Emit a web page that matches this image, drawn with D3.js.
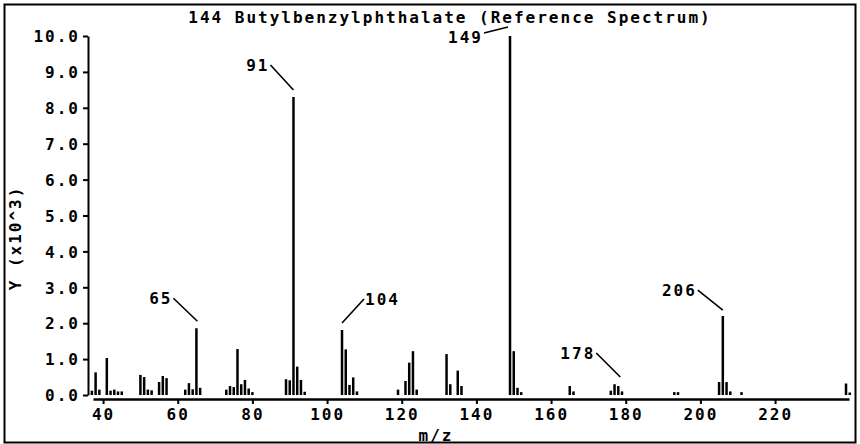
<!DOCTYPE html>
<html>
<head>
<meta charset="utf-8">
<script src="https://cdn.jsdelivr.net/npm/d3@7"></script>
<style>
  body { margin: 0; background: #fff; }
  svg text { font-family: "DejaVu Sans Mono", monospace; font-weight: bold; font-size: 16px; fill: #000; letter-spacing: 2px; }
  .axis path, .axis line { stroke: #000; }
</style>
</head>
<body>
<script>
var width = 860;
var height = 444;

var title = "144 Butylbenzylphthalate (Reference Spectrum)";
var xLabel = "m/z";
var yLabel = "Y (x10^3)";

// m/z of every line in the spectrum and its abundance
var mz = [37, 38, 39, 41, 42, 43, 44, 45,
          50, 51, 52, 53, 55, 56, 57,
          62, 63, 64, 65, 66,
          73, 74, 75, 76, 77, 78, 79, 80,
          89, 90, 91, 92, 93, 94,
          104, 105, 106, 107, 108,
          119, 121, 122, 123, 124,
          132, 133, 135, 136,
          149, 150, 151, 152,
          165, 166, 176, 177, 178, 179,
          193, 194, 205, 206, 207, 208, 211,
          239, 240];
var abundance = [120, 630, 150, 1030, 120, 150, 100, 100,
                 560, 500, 150, 130, 360, 530, 470,
                 150, 330, 160, 1860, 200,
                 150, 250, 220, 1280, 300, 420, 180, 80,
                 440, 410, 8300, 790, 420, 90,
                 1810, 1270, 280, 490, 100,
                 150, 390, 900, 1220, 150,
                 1140, 300, 680, 250,
                 10000, 1220, 200, 80,
                 250, 100, 120, 300, 250, 100,
                 80, 80, 360, 2200, 360, 100, 80,
                 320, 70];

// peaks that carry a label
var labelMz = [65, 91, 104, 149, 178, 206];

var xTicks = [40, 60, 80, 100, 120, 140, 160, 180, 200, 220];
var yTicks = [0, 1000, 2000, 3000, 4000, 5000, 6000, 7000, 8000, 9000, 10000];

var svg = d3.select("body").append("svg")
    .attr("width", width)
    .attr("height", height);

// outer frame
svg.append("rect")
    .attr("x", 4.5).attr("y", 4.5)
    .attr("width", 851).attr("height", 438)
    .attr("fill", "none")
    .attr("stroke", "#000")
    .attr("stroke-width", 2);

var x = d3.scaleLinear()
    .domain([37.3, 239.8])
    .range([93, 849]);

var y = d3.scaleLinear()
    .domain([0, 10000])
    .range([395, 36]);

// y axis
var yAxis = d3.axisLeft(y)
    .tickValues(yTicks)
    .tickSize(5)
    .tickSizeOuter(0)
    .tickPadding(3)
    .tickFormat(function (d) { return (d / 1000).toFixed(1); });

var gy = svg.append("g")
    .attr("class", "axis")
    .attr("transform", "translate(88,0)")
    .call(yAxis);
gy.select(".domain").attr("stroke-width", 2);
gy.selectAll(".tick line").attr("stroke-width", 2);
gy.selectAll("text").attr("font-size", null).attr("font-family", null).attr("dy", "0.36em");

// x axis
var xAxis = d3.axisBottom(x)
    .tickValues(xTicks)
    .tickSize(5)
    .tickSizeOuter(0)
    .tickPadding(5);

var gx = svg.append("g")
    .attr("class", "axis")
    .attr("transform", "translate(0,399)")
    .call(xAxis);
gx.select(".domain").attr("stroke-width", 2.5);
gx.selectAll(".tick line").attr("stroke-width", 2);
gx.selectAll("text").attr("font-size", null).attr("font-family", null);

// spectrum lines
var peaks = mz.map(function (m, i) { return { mz: m, v: abundance[i] }; });

svg.append("g").selectAll("line")
    .data(peaks)
    .enter().append("line")
    .attr("x1", function (d) { return x(d.mz); })
    .attr("x2", function (d) { return x(d.mz); })
    .attr("y1", y(0))
    .attr("y2", function (d) { return y(d.v); })
    .attr("stroke", "#000")
    .attr("stroke-width", 2.5);

// peak labels with leader lines: [near dx, near dy, far dx, far dy, text shift y]
var leader = {
    65: [1, -7, -23, -30, 0],
    91: [0, -7, -23, -32, 0],
    104: [0, -7, 22, -31, 0],
    149: [-2, -9, -26, -3, 4],
    178: [2, -9, -22, -33, 0],
    206: [0, -6, -25, -26, 0]
};

labelMz.forEach(function (m) {
    var v = abundance[mz.indexOf(m)];
    var bx = x(m), by = y(v);
    var l = leader[m];
    svg.append("line")
        .attr("x1", bx + l[0]).attr("y1", by + l[1])
        .attr("x2", bx + l[2]).attr("y2", by + l[3])
        .attr("stroke", "#000")
        .attr("stroke-width", 1.6);
    var right = l[2] > 0;
    svg.append("text")
        .attr("x", bx + l[2] + (right ? 1 : -1))
        .attr("y", by + l[3] + l[4])
        .attr("dy", "0.36em")
        .attr("text-anchor", right ? "start" : "end")
        .text(m);
});

// title and axis titles
svg.append("text")
    .attr("x", 450)
    .attr("y", 23)
    .attr("text-anchor", "middle")
    .text(title);

svg.append("text")
    .attr("x", 436)
    .attr("y", 441)
    .attr("text-anchor", "middle")
    .text(xLabel);

svg.append("text")
    .attr("transform", "translate(21,238) rotate(-90)")
    .attr("text-anchor", "middle")
    .text(yLabel);
</script>
</body>
</html>
